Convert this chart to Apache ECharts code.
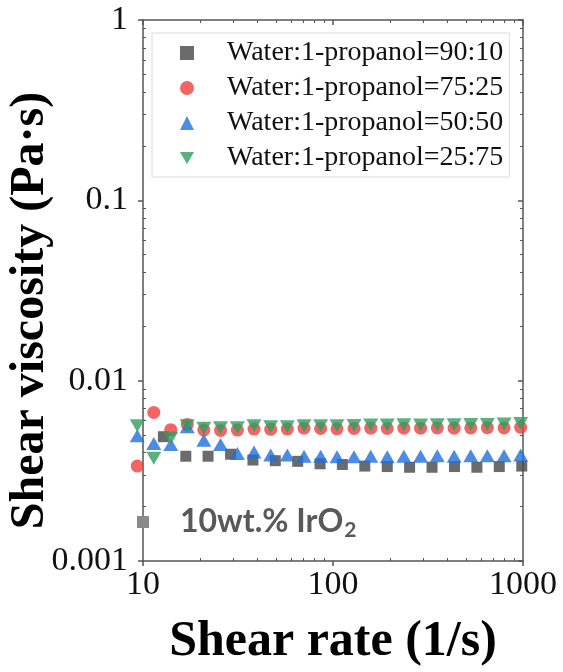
<!DOCTYPE html>
<html>
<head>
<meta charset="utf-8">
<script src="https://cdn.jsdelivr.net/npm/echarts@6/dist/echarts.min.js"></script>
<style>
  html, body { margin: 0; padding: 0; background: #fff; }
  #chart { width: 563px; height: 672px; }
</style>
</head>
<body>
<div id="chart"></div>
<script>
// Shear rates (1/s): the 90:10 run was logged on a coarser grid
const shearRateFine = [9.33, 11.4, 14.0, 17.1, 20.9, 25.6, 31.4, 38.4, 47.0, 57.5, 70.4, 86.1,
  105, 129, 158, 193, 236, 289, 354, 434, 531, 649, 795, 972];
const shearRateCoarse = [12.8, 16.8, 22.0, 28.9, 37.9, 49.7, 65.2, 85.5, 112, 147, 193, 253,
  332, 436, 572, 750, 985];

// Shear viscosity (Pa·s) for each water : 1-propanol ratio
const visc90_10 = [0.00489, 0.00381, 0.00381, 0.00391, 0.00363, 0.00360, 0.00357, 0.00346,
  0.00343, 0.00336, 0.00334, 0.00331, 0.00331, 0.00334, 0.00331, 0.00334, 0.00336];
const visc75_25 = [0.00336, 0.00667, 0.00535, 0.00572, 0.00532, 0.00530, 0.00532, 0.00539,
  0.00537, 0.00539, 0.00545, 0.00543, 0.00541, 0.00543, 0.00545, 0.00543, 0.00545, 0.00545,
  0.00547, 0.00545, 0.00547, 0.00549, 0.00547, 0.00551];
const visc50_50 = [0.00495, 0.00449, 0.00442, 0.00556, 0.00468, 0.00442, 0.00395, 0.00402,
  0.00387, 0.00387, 0.00381, 0.00381, 0.00378, 0.00378, 0.00381, 0.00378, 0.00381, 0.00381,
  0.00384, 0.00381, 0.00384, 0.00384, 0.00384, 0.00387];
const visc25_75 = [0.00562, 0.00371, 0.00479, 0.00562, 0.00544, 0.00548, 0.00548, 0.00562,
  0.00556, 0.00556, 0.00562, 0.00562, 0.00562, 0.00565, 0.00567, 0.00567, 0.00570, 0.00567,
  0.00570, 0.00570, 0.00572, 0.00572, 0.00575, 0.00578];

const seriesNames = ['Water:1-propanol=90:10', 'Water:1-propanol=75:25',
  'Water:1-propanol=50:50', 'Water:1-propanol=25:75'];

// Minor tick positions for the log axes
const xMinorTicks = [20, 30, 40, 50, 60, 70, 80, 90, 200, 300, 400, 500, 600, 700, 800, 900];
const yMinorTicks = [0.002, 0.003, 0.004, 0.005, 0.006, 0.007, 0.008, 0.009,
  0.02, 0.03, 0.04, 0.05, 0.06, 0.07, 0.08, 0.09,
  0.2, 0.3, 0.4, 0.5, 0.6, 0.7, 0.8, 0.9];

const serif = '"Liberation Serif", "Times New Roman", serif';
const axisColor = '#555';
// downward-pointing triangle (also used as the legend icon)
const triangleDown = 'path://M0,0 L16,0 L8,14 Z';

function pairs(xs, ys) { return ys.map((v, i) => [xs[i], v]); }
function plainNumber(v) { return String(+v.toPrecision(6)); }

const chart = echarts.init(document.getElementById('chart'), null, { renderer: 'canvas' });

const xBase = { type: 'log', logBase: 10, min: 10, max: 1000, gridIndex: 0 };
const yBase = { type: 'log', logBase: 10, min: 0.001, max: 1, gridIndex: 0 };

chart.setOption({
  animation: false,
  backgroundColor: '#fff',
  grid: { left: 143, right: 40, top: 20, bottom: 111, containLabel: false, outerBoundsMode: 'none' },
  legend: {
    orient: 'vertical',
    left: 152, top: 33,
    padding: [6, 6, 5, 28],
    itemWidth: 14, itemHeight: 14, itemGap: 7,
    borderColor: '#dcdcdc', borderWidth: 1,
    textStyle: { fontFamily: serif, fontSize: 28, color: '#111', lineHeight: 28, padding: [0, 0, 0, 28] },
    data: seriesNames
  },
  xAxis: [
    Object.assign({}, xBase, {
      position: 'bottom',
      name: 'Shear rate (1/s)', nameLocation: 'middle', nameGap: 56, nameMoveOverlap: false,
      nameTextStyle: { fontFamily: serif, fontSize: 50, fontWeight: 'bold', color: '#000' },
      axisLine: { show: true, lineStyle: { color: axisColor, width: 1.5 } },
      axisTick: { show: true, inside: false, length: 5, lineStyle: { color: axisColor, width: 1.5 } },
      axisLabel: { fontFamily: serif, fontSize: 34, color: '#111', margin: 7, formatter: plainNumber },
      splitLine: { show: false }
    }),
    Object.assign({}, xBase, {
      position: 'top',
      axisLine: { show: true, lineStyle: { color: axisColor, width: 1.5 } },
      axisTick: { show: true, inside: true, length: 5, lineStyle: { color: axisColor, width: 1.5 } },
      axisLabel: { show: false }, splitLine: { show: false }
    }),
    Object.assign({}, xBase, {
      position: 'bottom',
      axisLine: { show: false },
      axisTick: { show: true, inside: true, length: 3, customValues: xMinorTicks, lineStyle: { color: axisColor, width: 1 } },
      axisLabel: { show: false }, splitLine: { show: false }
    }),
    Object.assign({}, xBase, {
      position: 'top',
      axisLine: { show: false },
      axisTick: { show: true, inside: true, length: 3, customValues: xMinorTicks, lineStyle: { color: axisColor, width: 1 } },
      axisLabel: { show: false }, splitLine: { show: false }
    })
  ],
  yAxis: [
    Object.assign({}, yBase, {
      position: 'left',
      name: 'Shear viscosity (Pa·s)', nameLocation: 'middle', nameGap: 88, nameMoveOverlap: false,
      nameTextStyle: { fontFamily: serif, fontSize: 48, fontWeight: 'bold', color: '#000', padding: [0, 40, 0, 0] },
      axisLine: { show: true, lineStyle: { color: axisColor, width: 1.5 } },
      axisTick: { show: true, inside: false, length: 5, lineStyle: { color: axisColor, width: 1.5 } },
      axisLabel: { fontFamily: serif, fontSize: 34, color: '#111', margin: 15, formatter: plainNumber },
      splitLine: { show: false }
    }),
    Object.assign({}, yBase, {
      position: 'right',
      axisLine: { show: true, lineStyle: { color: axisColor, width: 1.5 } },
      axisTick: { show: true, inside: true, length: 5, lineStyle: { color: axisColor, width: 1.5 } },
      axisLabel: { show: false }, splitLine: { show: false }
    }),
    Object.assign({}, yBase, {
      position: 'left',
      axisLine: { show: false },
      axisTick: { show: true, inside: true, length: 3, customValues: yMinorTicks, lineStyle: { color: axisColor, width: 1 } },
      axisLabel: { show: false }, splitLine: { show: false }
    }),
    Object.assign({}, yBase, {
      position: 'right',
      axisLine: { show: false },
      axisTick: { show: true, inside: true, length: 3, customValues: yMinorTicks, lineStyle: { color: axisColor, width: 1 } },
      axisLabel: { show: false }, splitLine: { show: false }
    })
  ],
  series: [
    {
      name: seriesNames[0], type: 'scatter', clip: false,
      symbol: 'rect', symbolSize: 11,
      itemStyle: { color: '#4a4a4a', opacity: 0.82 },
      data: pairs(shearRateCoarse, visc90_10)
    },
    {
      name: seriesNames[1], type: 'scatter', clip: false,
      symbol: 'circle', symbolSize: 13,
      itemStyle: { color: '#ee3e3e', opacity: 0.8 },
      data: pairs(shearRateFine, visc75_25)
    },
    {
      name: seriesNames[2], type: 'scatter', clip: false,
      symbol: 'triangle', symbolSize: [15, 13],
      itemStyle: { color: '#1f6fdc', opacity: 0.8 },
      data: pairs(shearRateFine, visc50_50)
    },
    {
      name: seriesNames[3], type: 'scatter', clip: false,
      symbol: triangleDown, symbolSize: [15, 13],
      itemStyle: { color: '#2e9e5e', opacity: 0.8 },
      data: pairs(shearRateFine, visc25_75)
    }
  ],
  graphic: [
    {
      type: 'rect', left: 137, top: 516, z: 10,
      shape: { width: 12, height: 12 },
      style: { fill: '#8a8a8a' }
    },
    {
      type: 'text', left: 180, top: 503, z: 10,
      style: {
        text: '{a|10wt.% IrO}{b|2}',
        rich: {
          a: { fontFamily: 'Lato, "Open Sans", sans-serif', fontWeight: 'bold', fontSize: 32, fill: '#595959', lineHeight: 36 },
          b: { fontFamily: 'Lato, "Open Sans", sans-serif', fontWeight: 'bold', fontSize: 21, fill: '#595959', lineHeight: 36, padding: [17, 0, 0, 1] }
        }
      }
    }
  ]
});
</script>
</body>
</html>
